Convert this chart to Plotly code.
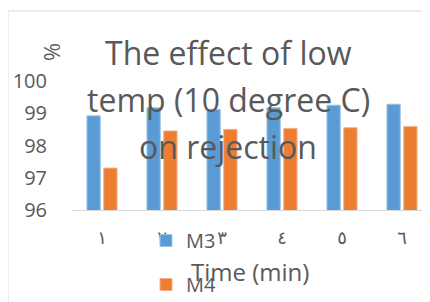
import plotly.graph_objects as go

categories = ["١", "٢", "٣", "٤", "٥", "٦"]
m3_values = [98.92, 99.17, 99.12, 99.17, 99.25, 99.28]
m4_values = [97.30, 98.45, 98.50, 98.53, 98.55, 98.59]
title_lines = ["The effect of low", "temp (10 degree C)", "on rejection"]
y_ticks = [96, 97, 98, 99, 100]

# page body has an 8px margin; positions below are target screen pixels minus 8
OFF = 8
W, H = 430, 302
L, R, T, B = 72 - OFF, 0, 81 - OFF, H - (210 - OFF)
pw, ph = W - L - R, H - T - B

def px(x):
    return (x - OFF - L) / pw

def py(y):
    return (H - B - (y - OFF)) / ph

FONT = "Open Sans, DejaVu Sans, sans-serif"
GRAY = "#595959"

fig = go.Figure()
fig.add_trace(go.Bar(x=categories, y=m3_values, name="M3", legendgroup="a",
                     marker=dict(color="#5B9BD5", line=dict(color="#9DC3E6", width=1))))
fig.add_trace(go.Bar(x=categories, y=m4_values, name="M4", legendgroup="b",
                     marker=dict(color="#ED7D31", line=dict(color="#F4B183", width=1))))

annotations = []
for line, yc in zip(title_lines, [52, 99, 146]):
    annotations.append(dict(text=line, xref="paper", yref="paper", x=px(228), y=py(yc),
                            xanchor="center", yanchor="middle", showarrow=False,
                            font=dict(family=FONT, size=32, color=GRAY)))
annotations.append(dict(text="%", xref="paper", yref="paper", x=px(51), y=py(52),
                        xanchor="center", yanchor="middle", showarrow=False, textangle=-90,
                        font=dict(family=FONT, size=22, color=GRAY)))
annotations.append(dict(text="Time (min)", xref="paper", yref="paper", x=px(250), y=py(271),
                        xanchor="center", yanchor="middle", showarrow=False,
                        font=dict(family=FONT, size=24, color=GRAY)))

fig.update_layout(
    width=W, height=H,
    margin=dict(l=L, r=R, t=T, b=B, autoexpand=False),
    paper_bgcolor="white", plot_bgcolor="white",
    barmode="group", bargap=0.44, bargroupgap=0.21,
    font=dict(family=FONT, color=GRAY),
    annotations=annotations,
    showlegend=True,
    legend=dict(xref="container", yref="container", x=(146 - OFF) / W, y=1 - (221 - OFF) / H,
                xanchor="left", yanchor="top",
                font=dict(family=FONT, size=20, color=GRAY),
                tracegroupgap=15, bgcolor="rgba(0,0,0,0)"),
    shapes=[dict(type="rect", xref="paper", yref="paper",
                 x0=px(8), x1=px(460), y0=py(330), y1=py(11),
                 line=dict(color="#D9D9D9", width=1), layer="below")],
)
fig.update_xaxes(range=[-0.5, 5.6], showline=True, linecolor="#D9D9D9", linewidth=1,
                 tickfont=dict(family="DejaVu Sans, Open Sans", size=18, color=GRAY),
                 ticks="outside", ticklen=11, tickcolor="rgba(0,0,0,0)",
                 showgrid=False, automargin=False)
fig.update_yaxes(range=[96, 100], tickvals=y_ticks, showgrid=False, showline=False, zeroline=False,
                 tickfont=dict(family=FONT, size=20, color=GRAY),
                 ticks="outside", ticklen=20, tickcolor="rgba(0,0,0,0)",
                 automargin=False)

fig.write_html("out.html")
